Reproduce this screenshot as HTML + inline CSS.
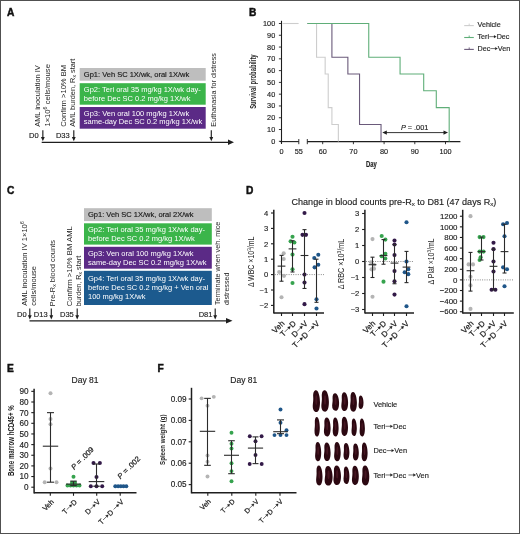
<!DOCTYPE html>
<html><head><meta charset="utf-8"><style>
html,body{margin:0;padding:0;background:#fff;}
body{width:520px;height:534px;overflow:hidden;}
#w{width:520px;height:534px;will-change:transform;background:#fff;}
svg{display:block;font-family:"Liberation Sans", sans-serif;}
</style></head><body><div id="w">
<svg width="520" height="534" viewBox="0 0 520 534" xml:space="preserve" style="white-space:pre">
<rect x="0" y="0" width="520" height="534" fill="#fff"/>
<text x="7" y="16.2" font-size="10.2" font-weight="bold" fill="#111" stroke="#111" stroke-width="0.45">A</text>
<g transform="translate(40.40,126.80) rotate(-90) translate(0.00,0)" fill="#1e1e1e"><text x="0.00" y="0" font-size="7.4207787074247324">AML inoculation IV</text></g>
<g transform="translate(49.60,126.60) rotate(-90) translate(0.00,0)" fill="#1e1e1e"><text x="0.00" y="0" font-size="7.644931988651673">1×10</text><text x="17.22" y="-2.75" font-size="5.20">6</text><text x="20.11" y="0" font-size="7.644931988651673"> cells/mouse</text></g>
<g transform="translate(65.60,126.80) rotate(-90) translate(0.00,0)" fill="#1e1e1e"><text x="0.00" y="0" font-size="7.615026627644773">Confirm &gt;10% BM</text></g>
<g transform="translate(75.00,126.80) rotate(-90) translate(0.00,0)" fill="#1e1e1e"><text x="0.00" y="0" font-size="7.371914505518633">AML burden, R</text><text x="49.31" y="1.47" font-size="5.01">x</text><text x="51.81" y="0" font-size="7.371914505518633"> start</text></g>
<g transform="translate(216.00,126.70) rotate(-90) translate(0.00,0)" fill="#1e1e1e"><text x="0.00" y="0" font-size="7.2453015675522074">Euthanasia for distress</text></g>
<rect x="79.7" y="68.0" width="126.00" height="12.7" fill="#bebebe"/>
<rect x="79.7" y="83.2" width="126.00" height="21.5" fill="#3bb54a"/>
<rect x="79.7" y="107.0" width="126.00" height="21.7" fill="#5b2a86"/>
<g transform="translate(83.80,76.60) translate(0.00,0)" fill="#1a1a1a" stroke="#1a1a1a" stroke-width="0.15"><text x="0.00" y="0" font-size="7.5">Gp1: Veh SC 1X/wk, oral 1X/wk</text></g>
<g transform="translate(83.80,91.90) translate(0.00,0)" fill="#fff"><text x="0.00" y="0" font-size="7.5">Gp2: Teri oral 35 mg/kg 1X/wk day-</text></g>
<g transform="translate(83.80,100.70) translate(0.00,0)" fill="#fff"><text x="0.00" y="0" font-size="7.5">before Dec SC 0.2 mg/kg 1X/wk</text></g>
<g transform="translate(83.80,115.60) translate(0.00,0)" fill="#fff"><text x="0.00" y="0" font-size="7.5">Gp3: Ven oral 100 mg/kg 1X/wk</text></g>
<g transform="translate(83.80,124.40) translate(0.00,0)" fill="#fff"><text x="0.00" y="0" font-size="7.5">same-day Dec SC 0.2 mg/kg 1X/wk</text></g>
<line x1="41.70" y1="142.30" x2="230.00" y2="142.30" stroke="#1e1e1e" stroke-width="1.3"/>
<path d="M228,139.6 L234,142.3 L228,145 Z" fill="#1e1e1e"/>
<g transform="translate(29.00,138.40) translate(0.00,0)" fill="#1e1e1e" stroke="#1e1e1e" stroke-width="0.15"><text x="0.00" y="0" font-size="7.5">D0</text></g>
<g transform="translate(55.90,138.40) translate(0.00,0)" fill="#1e1e1e" stroke="#1e1e1e" stroke-width="0.15"><text x="0.00" y="0" font-size="7.5">D33</text></g>
<line x1="42.85" y1="130.30" x2="42.85" y2="137.70" stroke="#1e1e1e" stroke-width="1.15"/>
<path d="M40.95,136.90 L44.75,136.90 L42.85,141.20 Z" fill="#1e1e1e"/>
<line x1="73.80" y1="130.30" x2="73.80" y2="137.70" stroke="#1e1e1e" stroke-width="1.15"/>
<path d="M71.90,136.90 L75.70,136.90 L73.80,141.20 Z" fill="#1e1e1e"/>
<line x1="211.30" y1="130.30" x2="211.30" y2="137.70" stroke="#1e1e1e" stroke-width="1.15"/>
<path d="M209.40,136.90 L213.20,136.90 L211.30,141.20 Z" fill="#1e1e1e"/>
<text x="249" y="15.8" font-size="10.2" font-weight="bold" fill="#111" stroke="#111" stroke-width="0.45">B</text>
<line x1="281.50" y1="20.80" x2="281.50" y2="144.00" stroke="#1e1e1e" stroke-width="1.1"/>
<line x1="278.90" y1="141.30" x2="281.50" y2="141.30" stroke="#1e1e1e" stroke-width="0.9"/>
<g transform="translate(275.20,143.80) translate(-4.06,0)" fill="#1e1e1e" stroke="#1e1e1e" stroke-width="0.15"><text x="0.00" y="0" font-size="7.3">0</text></g>
<line x1="278.90" y1="129.52" x2="281.50" y2="129.52" stroke="#1e1e1e" stroke-width="0.9"/>
<g transform="translate(275.20,132.02) translate(-8.12,0)" fill="#1e1e1e" stroke="#1e1e1e" stroke-width="0.15"><text x="0.00" y="0" font-size="7.3">10</text></g>
<line x1="278.90" y1="117.74" x2="281.50" y2="117.74" stroke="#1e1e1e" stroke-width="0.9"/>
<g transform="translate(275.20,120.24) translate(-8.12,0)" fill="#1e1e1e" stroke="#1e1e1e" stroke-width="0.15"><text x="0.00" y="0" font-size="7.3">20</text></g>
<line x1="278.90" y1="105.96" x2="281.50" y2="105.96" stroke="#1e1e1e" stroke-width="0.9"/>
<g transform="translate(275.20,108.46) translate(-8.12,0)" fill="#1e1e1e" stroke="#1e1e1e" stroke-width="0.15"><text x="0.00" y="0" font-size="7.3">30</text></g>
<line x1="278.90" y1="94.18" x2="281.50" y2="94.18" stroke="#1e1e1e" stroke-width="0.9"/>
<g transform="translate(275.20,96.68) translate(-8.12,0)" fill="#1e1e1e" stroke="#1e1e1e" stroke-width="0.15"><text x="0.00" y="0" font-size="7.3">40</text></g>
<line x1="278.90" y1="82.40" x2="281.50" y2="82.40" stroke="#1e1e1e" stroke-width="0.9"/>
<g transform="translate(275.20,84.90) translate(-8.12,0)" fill="#1e1e1e" stroke="#1e1e1e" stroke-width="0.15"><text x="0.00" y="0" font-size="7.3">50</text></g>
<line x1="278.90" y1="70.62" x2="281.50" y2="70.62" stroke="#1e1e1e" stroke-width="0.9"/>
<g transform="translate(275.20,73.12) translate(-8.12,0)" fill="#1e1e1e" stroke="#1e1e1e" stroke-width="0.15"><text x="0.00" y="0" font-size="7.3">60</text></g>
<line x1="278.90" y1="58.84" x2="281.50" y2="58.84" stroke="#1e1e1e" stroke-width="0.9"/>
<g transform="translate(275.20,61.34) translate(-8.12,0)" fill="#1e1e1e" stroke="#1e1e1e" stroke-width="0.15"><text x="0.00" y="0" font-size="7.3">70</text></g>
<line x1="278.90" y1="47.06" x2="281.50" y2="47.06" stroke="#1e1e1e" stroke-width="0.9"/>
<g transform="translate(275.20,49.56) translate(-8.12,0)" fill="#1e1e1e" stroke="#1e1e1e" stroke-width="0.15"><text x="0.00" y="0" font-size="7.3">80</text></g>
<line x1="278.90" y1="35.28" x2="281.50" y2="35.28" stroke="#1e1e1e" stroke-width="0.9"/>
<g transform="translate(275.20,37.78) translate(-8.12,0)" fill="#1e1e1e" stroke="#1e1e1e" stroke-width="0.15"><text x="0.00" y="0" font-size="7.3">90</text></g>
<line x1="278.90" y1="23.50" x2="281.50" y2="23.50" stroke="#1e1e1e" stroke-width="0.9"/>
<g transform="translate(275.20,26.00) translate(-12.18,0)" fill="#1e1e1e" stroke="#1e1e1e" stroke-width="0.15"><text x="0.00" y="0" font-size="7.3">100</text></g>
<line x1="279.90" y1="141.60" x2="298.80" y2="141.60" stroke="#1e1e1e" stroke-width="1.1"/>
<line x1="307.30" y1="141.60" x2="460.40" y2="141.60" stroke="#1e1e1e" stroke-width="1.1"/>
<line x1="298.80" y1="139.00" x2="298.80" y2="144.20" stroke="#1e1e1e" stroke-width="0.9"/>
<line x1="307.30" y1="139.00" x2="307.30" y2="144.20" stroke="#1e1e1e" stroke-width="0.9"/>
<g transform="translate(281.50,153.90) translate(-2.03,0)" fill="#1e1e1e" stroke="#1e1e1e" stroke-width="0.15"><text x="0.00" y="0" font-size="7.3">0</text></g>
<g transform="translate(298.80,153.90) translate(-4.06,0)" fill="#1e1e1e" stroke="#1e1e1e" stroke-width="0.15"><text x="0.00" y="0" font-size="7.3">55</text></g>
<line x1="322.70" y1="141.60" x2="322.70" y2="144.20" stroke="#1e1e1e" stroke-width="0.9"/>
<g transform="translate(322.70,153.90) translate(-4.06,0)" fill="#1e1e1e" stroke="#1e1e1e" stroke-width="0.15"><text x="0.00" y="0" font-size="7.3">60</text></g>
<line x1="353.40" y1="141.60" x2="353.40" y2="144.20" stroke="#1e1e1e" stroke-width="0.9"/>
<g transform="translate(353.40,153.90) translate(-4.06,0)" fill="#1e1e1e" stroke="#1e1e1e" stroke-width="0.15"><text x="0.00" y="0" font-size="7.3">70</text></g>
<line x1="384.10" y1="141.60" x2="384.10" y2="144.20" stroke="#1e1e1e" stroke-width="0.9"/>
<g transform="translate(384.10,153.90) translate(-4.06,0)" fill="#1e1e1e" stroke="#1e1e1e" stroke-width="0.15"><text x="0.00" y="0" font-size="7.3">80</text></g>
<line x1="414.80" y1="141.60" x2="414.80" y2="144.20" stroke="#1e1e1e" stroke-width="0.9"/>
<g transform="translate(414.80,153.90) translate(-4.06,0)" fill="#1e1e1e" stroke="#1e1e1e" stroke-width="0.15"><text x="0.00" y="0" font-size="7.3">90</text></g>
<line x1="445.50" y1="141.60" x2="445.50" y2="144.20" stroke="#1e1e1e" stroke-width="0.9"/>
<g transform="translate(445.50,153.90) translate(-6.09,0)" fill="#1e1e1e" stroke="#1e1e1e" stroke-width="0.15"><text x="0.00" y="0" font-size="7.3">100</text></g>
<g transform="translate(371.50,167.40) scale(0.7179344427802511,1) translate(-7.52,0)" fill="#1e1e1e" stroke="#1e1e1e" stroke-width="0.15"><text x="0.00" y="0" font-size="8.2" font-weight="bold">Day</text></g>
<g transform="translate(256.40,81.60) rotate(-90) scale(0.7161704428163157,1) translate(-38.05,0)" fill="#1e1e1e"><text x="0.00" y="0" font-size="8.2" font-weight="bold">Survival probability</text></g>
<path d="M282.5,23.5 H298.6" fill="none" stroke="#cdcdcd" stroke-width="1.1"/>
<path d="M307.5,23.5 H316.56 V57.19079999999999 H325.156 V74.0362 H328.226 V107.6092 H331.90999999999997 V124.4546 H338.35699999999997 V141.6" fill="none" stroke="#cdcdcd" stroke-width="1.1"/>
<path d="M307.5,23.5 H331.90999999999997 V57.19079999999999 H347.874 V74.0362 H359.53999999999996 V124.4546 H381.03 V141.6" fill="none" stroke="#6a5a7a" stroke-width="1.1"/>
<path d="M307.5,23.5 H368.75 V57.19079999999999 H400.06399999999996 V74.0362 H423.703 V90.7638 H436.28999999999996 V107.6092 H449.18399999999997 V141.6" fill="none" stroke="#5fae78" stroke-width="1.1"/>
<line x1="385.00" y1="132.60" x2="445.00" y2="132.60" stroke="#1e1e1e" stroke-width="0.9"/>
<path d="M382.3,132.6 L386.8,130.5 L386.8,134.7 Z" fill="#1e1e1e"/>
<path d="M448,132.6 L443.5,130.5 L443.5,134.7 Z" fill="#1e1e1e"/>
<g transform="translate(414.60,129.60) translate(-13.70,0)" fill="#1e1e1e" stroke="#1e1e1e" stroke-width="0.15"><text x="0.00" y="0" font-size="7.3" font-style="italic">P</text><text x="4.87" y="0" font-size="7.3"> = .001</text></g>
<line x1="464.20" y1="25.60" x2="473.80" y2="25.60" stroke="#cdcdcd" stroke-width="1.1"/>
<line x1="469.20" y1="23.60" x2="469.20" y2="25.60" stroke="#cdcdcd" stroke-width="0.9"/>
<g transform="translate(477.50,27.20) translate(0.00,0)" fill="#1e1e1e" stroke="#1e1e1e" stroke-width="0.15"><text x="0.00" y="0" font-size="7.2">Vehicle</text></g>
<line x1="464.20" y1="37.50" x2="473.80" y2="37.50" stroke="#5fae78" stroke-width="1.1"/>
<line x1="469.20" y1="35.50" x2="469.20" y2="37.50" stroke="#5fae78" stroke-width="0.9"/>
<g transform="translate(477.50,39.10) translate(0.00,0)" fill="#1e1e1e" stroke="#1e1e1e" stroke-width="0.15"><text x="0.00" y="0" font-size="7.2">Teri</text><path d="M11.75,-2.45 H16.57" stroke="#1e1e1e" stroke-width="0.61"/><path d="M16.47,-3.82 L18.95,-2.45 L16.47,-1.08 Z" fill="#1e1e1e"/><text x="19.16" y="0" font-size="7.2">Dec</text></g>
<line x1="464.20" y1="49.40" x2="473.80" y2="49.40" stroke="#6a5a7a" stroke-width="1.1"/>
<line x1="469.20" y1="47.40" x2="469.20" y2="49.40" stroke="#6a5a7a" stroke-width="0.9"/>
<g transform="translate(477.50,51.00) translate(0.00,0)" fill="#1e1e1e" stroke="#1e1e1e" stroke-width="0.15"><text x="0.00" y="0" font-size="7.2">Dec</text><path d="M12.95,-2.45 H17.77" stroke="#1e1e1e" stroke-width="0.61"/><path d="M17.67,-3.82 L20.15,-2.45 L17.67,-1.08 Z" fill="#1e1e1e"/><text x="20.36" y="0" font-size="7.2">Ven</text></g>
<text x="7" y="194" font-size="10.2" font-weight="bold" fill="#111" stroke="#111" stroke-width="0.45">C</text>
<g transform="translate(27.00,305.80) rotate(-90) translate(0.00,0)" fill="#1e1e1e"><text x="0.00" y="0" font-size="7.547152979274322">AML inoculation IV 1×10</text><text x="81.75" y="-2.72" font-size="5.13">6</text></g>
<g transform="translate(36.00,305.80) rotate(-90) translate(0.00,0)" fill="#1e1e1e"><text x="0.00" y="0" font-size="7.500110974653389">cells/mouse</text></g>
<g transform="translate(54.50,306.30) rotate(-90) translate(0.00,0)" fill="#1e1e1e"><text x="0.00" y="0" font-size="7.449176644078508">Pre-R</text><text x="19.45" y="1.49" font-size="5.07">x</text><text x="21.99" y="0" font-size="7.449176644078508"> blood counts</text></g>
<g transform="translate(71.60,306.30) rotate(-90) translate(0.00,0)" fill="#1e1e1e"><text x="0.00" y="0" font-size="7.696217715635191">Confirm &gt;10% BM AML</text></g>
<g transform="translate(81.00,306.30) rotate(-90) translate(0.00,0)" fill="#1e1e1e"><text x="0.00" y="0" font-size="7.261615889278334">burden, R</text><text x="31.89" y="1.45" font-size="4.94">x</text><text x="34.36" y="0" font-size="7.261615889278334"> start</text></g>
<g transform="translate(220.40,305.00) rotate(-90) translate(0.00,0)" fill="#1e1e1e"><text x="0.00" y="0" font-size="7.188061146942316">Terminate when veh. mice</text></g>
<g transform="translate(229.40,305.00) rotate(-90) translate(0.00,0)" fill="#1e1e1e"><text x="0.00" y="0" font-size="7.108795145614426">distressed</text></g>
<rect x="84.0" y="208.2" width="127.80" height="12.9" fill="#bebebe"/>
<rect x="84.0" y="223.3" width="127.80" height="21.3" fill="#3bb54a"/>
<rect x="84.0" y="246.8" width="127.80" height="21.9" fill="#5b2a86"/>
<rect x="84.0" y="270.8" width="127.80" height="34.2" fill="#1c5a8e"/>
<g transform="translate(88.00,217.20) translate(0.00,0)" fill="#1a1a1a" stroke="#1a1a1a" stroke-width="0.15"><text x="0.00" y="0" font-size="7.5">Gp1: Veh SC 1X/wk, oral 2X/wk</text></g>
<g transform="translate(88.00,232.10) translate(0.00,0)" fill="#fff"><text x="0.00" y="0" font-size="7.5">Gp2: Teri oral 35 mg/kg 1X/wk day-</text></g>
<g transform="translate(88.00,241.00) translate(0.00,0)" fill="#fff"><text x="0.00" y="0" font-size="7.5">before Dec SC 0.2 mg/kg 1X/wk</text></g>
<g transform="translate(88.00,255.60) translate(0.00,0)" fill="#fff"><text x="0.00" y="0" font-size="7.5">Gp3: Ven oral 100 mg/kg 1X/wk</text></g>
<g transform="translate(88.00,264.60) translate(0.00,0)" fill="#fff"><text x="0.00" y="0" font-size="7.5">same-day Dec SC 0.2 mg/kg 1X/wk</text></g>
<g transform="translate(88.00,280.80) translate(0.00,0)" fill="#fff"><text x="0.00" y="0" font-size="7.5">Gp4: Teri oral 35 mg/kg 1X/wk day-</text></g>
<g transform="translate(88.00,289.90) translate(0.00,0)" fill="#fff"><text x="0.00" y="0" font-size="7.5">before Dec SC 0.2 mg/kg + Ven oral</text></g>
<g transform="translate(88.00,299.00) translate(0.00,0)" fill="#fff"><text x="0.00" y="0" font-size="7.5">100 mg/kg 1X/wk</text></g>
<line x1="29.50" y1="320.80" x2="228.00" y2="320.80" stroke="#1e1e1e" stroke-width="1.3"/>
<path d="M226,318.1 L232.5,320.8 L226,323.5 Z" fill="#1e1e1e"/>
<g transform="translate(17.00,317.20) translate(0.00,0)" fill="#1e1e1e" stroke="#1e1e1e" stroke-width="0.15"><text x="0.00" y="0" font-size="7.5">D0</text></g>
<g transform="translate(33.80,317.20) translate(0.00,0)" fill="#1e1e1e" stroke="#1e1e1e" stroke-width="0.15"><text x="0.00" y="0" font-size="7.5">D13</text></g>
<g transform="translate(60.00,317.20) translate(0.00,0)" fill="#1e1e1e" stroke="#1e1e1e" stroke-width="0.15"><text x="0.00" y="0" font-size="7.5">D35</text></g>
<g transform="translate(198.70,317.20) translate(0.00,0)" fill="#1e1e1e" stroke="#1e1e1e" stroke-width="0.15"><text x="0.00" y="0" font-size="7.5">D81</text></g>
<line x1="29.80" y1="308.50" x2="29.80" y2="316.10" stroke="#1e1e1e" stroke-width="1.15"/>
<path d="M27.90,315.30 L31.70,315.30 L29.80,319.60 Z" fill="#1e1e1e"/>
<line x1="51.30" y1="308.50" x2="51.30" y2="316.10" stroke="#1e1e1e" stroke-width="1.15"/>
<path d="M49.40,315.30 L53.20,315.30 L51.30,319.60 Z" fill="#1e1e1e"/>
<line x1="77.20" y1="308.50" x2="77.20" y2="316.10" stroke="#1e1e1e" stroke-width="1.15"/>
<path d="M75.30,315.30 L79.10,315.30 L77.20,319.60 Z" fill="#1e1e1e"/>
<line x1="215.20" y1="308.50" x2="215.20" y2="316.10" stroke="#1e1e1e" stroke-width="1.15"/>
<path d="M213.30,315.30 L217.10,315.30 L215.20,319.60 Z" fill="#1e1e1e"/>
<text x="245.9" y="193.6" font-size="10.2" font-weight="bold" fill="#111" stroke="#111" stroke-width="0.45">D</text>
<g transform="translate(291.50,204.50) translate(0.00,0)" fill="#1e1e1e" stroke="#1e1e1e" stroke-width="0.15"><text x="0.00" y="0" font-size="9.05">Change in blood counts pre-R</text><text x="120.24" y="1.81" font-size="6.15">x</text><text x="123.32" y="0" font-size="9.05"> to D81 (47 days R</text><text x="198.77" y="1.81" font-size="6.15">x</text><text x="201.85" y="0" font-size="9.05">)</text></g>
<line x1="273.80" y1="209.80" x2="273.80" y2="313.60" stroke="#1e1e1e" stroke-width="1.5"/>
<line x1="273.80" y1="312.90" x2="324.00" y2="312.90" stroke="#1e1e1e" stroke-width="1.5"/>
<line x1="271.00" y1="213.00" x2="273.80" y2="213.00" stroke="#1e1e1e" stroke-width="1.1"/>
<g transform="translate(268.20,215.70) translate(-4.23,0)" fill="#1e1e1e" stroke="#1e1e1e" stroke-width="0.15"><text x="0.00" y="0" font-size="7.6">4</text></g>
<line x1="271.00" y1="228.40" x2="273.80" y2="228.40" stroke="#1e1e1e" stroke-width="1.1"/>
<g transform="translate(268.20,231.10) translate(-4.23,0)" fill="#1e1e1e" stroke="#1e1e1e" stroke-width="0.15"><text x="0.00" y="0" font-size="7.6">3</text></g>
<line x1="271.00" y1="243.80" x2="273.80" y2="243.80" stroke="#1e1e1e" stroke-width="1.1"/>
<g transform="translate(268.20,246.50) translate(-4.23,0)" fill="#1e1e1e" stroke="#1e1e1e" stroke-width="0.15"><text x="0.00" y="0" font-size="7.6">2</text></g>
<line x1="271.00" y1="259.20" x2="273.80" y2="259.20" stroke="#1e1e1e" stroke-width="1.1"/>
<g transform="translate(268.20,261.90) translate(-4.23,0)" fill="#1e1e1e" stroke="#1e1e1e" stroke-width="0.15"><text x="0.00" y="0" font-size="7.6">1</text></g>
<line x1="271.00" y1="274.60" x2="273.80" y2="274.60" stroke="#1e1e1e" stroke-width="1.1"/>
<g transform="translate(268.20,277.30) translate(-4.23,0)" fill="#1e1e1e" stroke="#1e1e1e" stroke-width="0.15"><text x="0.00" y="0" font-size="7.6">0</text></g>
<line x1="271.00" y1="290.00" x2="273.80" y2="290.00" stroke="#1e1e1e" stroke-width="1.1"/>
<g transform="translate(268.20,292.70) translate(-8.67,0)" fill="#1e1e1e" stroke="#1e1e1e" stroke-width="0.15"><text x="0.00" y="0" font-size="7.6">−1</text></g>
<line x1="271.00" y1="305.40" x2="273.80" y2="305.40" stroke="#1e1e1e" stroke-width="1.1"/>
<g transform="translate(268.20,308.10) translate(-8.67,0)" fill="#1e1e1e" stroke="#1e1e1e" stroke-width="0.15"><text x="0.00" y="0" font-size="7.6">−2</text></g>
<line x1="274.80" y1="274.60" x2="324.00" y2="274.60" stroke="#6a6a6a" stroke-width="0.8" stroke-dasharray="1,1.3"/>
<line x1="281.50" y1="312.90" x2="281.50" y2="316.00" stroke="#1e1e1e" stroke-width="1.1"/>
<line x1="292.50" y1="312.90" x2="292.50" y2="316.00" stroke="#1e1e1e" stroke-width="1.1"/>
<line x1="304.50" y1="312.90" x2="304.50" y2="316.00" stroke="#1e1e1e" stroke-width="1.1"/>
<line x1="316.50" y1="312.90" x2="316.50" y2="316.00" stroke="#1e1e1e" stroke-width="1.1"/>
<circle cx="283.70" cy="253.35" r="2.05" fill="#b4b4b4"/>
<circle cx="283.70" cy="259.05" r="2.05" fill="#b4b4b4"/>
<circle cx="279.20" cy="271.98" r="2.05" fill="#b4b4b4"/>
<circle cx="284.00" cy="275.83" r="2.05" fill="#b4b4b4"/>
<circle cx="281.50" cy="297.24" r="2.05" fill="#b4b4b4"/>
<line x1="281.50" y1="255.35" x2="281.50" y2="281.22" stroke="#2b2b2b" stroke-width="1.1"/>
<line x1="279.50" y1="255.35" x2="283.50" y2="255.35" stroke="#2b2b2b" stroke-width="1.1"/>
<line x1="279.50" y1="281.22" x2="283.50" y2="281.22" stroke="#2b2b2b" stroke-width="1.1"/>
<line x1="277.60" y1="266.13" x2="285.40" y2="266.13" stroke="#2b2b2b" stroke-width="1.1"/>
<circle cx="292.50" cy="236.72" r="2.05" fill="#36a34e"/>
<circle cx="290.60" cy="241.34" r="2.05" fill="#36a34e"/>
<circle cx="294.40" cy="242.57" r="2.05" fill="#36a34e"/>
<circle cx="292.50" cy="254.58" r="2.05" fill="#36a34e"/>
<circle cx="292.50" cy="269.21" r="2.05" fill="#36a34e"/>
<circle cx="292.50" cy="283.07" r="2.05" fill="#36a34e"/>
<line x1="292.50" y1="240.72" x2="292.50" y2="271.98" stroke="#2b2b2b" stroke-width="1.1"/>
<line x1="290.50" y1="240.72" x2="294.50" y2="240.72" stroke="#2b2b2b" stroke-width="1.1"/>
<line x1="290.50" y1="271.98" x2="294.50" y2="271.98" stroke="#2b2b2b" stroke-width="1.1"/>
<line x1="288.60" y1="248.88" x2="296.40" y2="248.88" stroke="#2b2b2b" stroke-width="1.1"/>
<circle cx="304.50" cy="213.00" r="2.05" fill="#331a48"/>
<circle cx="302.50" cy="234.87" r="2.05" fill="#331a48"/>
<circle cx="306.00" cy="234.87" r="2.05" fill="#331a48"/>
<circle cx="304.50" cy="274.60" r="2.05" fill="#331a48"/>
<circle cx="304.50" cy="282.61" r="2.05" fill="#331a48"/>
<circle cx="304.50" cy="304.17" r="2.05" fill="#331a48"/>
<line x1="304.50" y1="229.63" x2="304.50" y2="288.46" stroke="#2b2b2b" stroke-width="1.1"/>
<line x1="302.50" y1="229.63" x2="306.50" y2="229.63" stroke="#2b2b2b" stroke-width="1.1"/>
<line x1="302.50" y1="288.46" x2="306.50" y2="288.46" stroke="#2b2b2b" stroke-width="1.1"/>
<line x1="300.60" y1="255.50" x2="308.40" y2="255.50" stroke="#2b2b2b" stroke-width="1.1"/>
<circle cx="318.30" cy="254.73" r="2.05" fill="#1f5689"/>
<circle cx="314.30" cy="257.97" r="2.05" fill="#1f5689"/>
<circle cx="318.30" cy="264.74" r="2.05" fill="#1f5689"/>
<circle cx="314.60" cy="267.36" r="2.05" fill="#1f5689"/>
<circle cx="316.50" cy="299.24" r="2.05" fill="#1f5689"/>
<circle cx="316.50" cy="308.48" r="2.05" fill="#1f5689"/>
<line x1="316.50" y1="259.20" x2="316.50" y2="302.32" stroke="#2b2b2b" stroke-width="1.1"/>
<line x1="314.50" y1="259.20" x2="318.50" y2="259.20" stroke="#2b2b2b" stroke-width="1.1"/>
<line x1="314.50" y1="302.32" x2="318.50" y2="302.32" stroke="#2b2b2b" stroke-width="1.1"/>
<g transform="translate(285.00,324.00) rotate(-45) translate(-13.62,0)" fill="#1e1e1e" stroke="#1e1e1e" stroke-width="0.22"><text x="0.00" y="0" font-size="7.9">Veh</text></g>
<g transform="translate(296.50,324.00) rotate(-45) translate(-18.83,0)" fill="#1e1e1e" stroke="#1e1e1e" stroke-width="0.22"><text x="0.00" y="0" font-size="7.9">T</text><path d="M4.98,-2.69 H10.28" stroke="#1e1e1e" stroke-width="0.67"/><path d="M10.18,-4.19 L12.88,-2.69 L10.18,-1.19 Z" fill="#1e1e1e"/><text x="13.12" y="0" font-size="7.9">D</text></g>
<g transform="translate(308.30,324.00) rotate(-45) translate(-19.27,0)" fill="#1e1e1e" stroke="#1e1e1e" stroke-width="0.22"><text x="0.00" y="0" font-size="7.9">D</text><path d="M5.86,-2.69 H11.16" stroke="#1e1e1e" stroke-width="0.67"/><path d="M11.06,-4.19 L13.76,-2.69 L11.06,-1.19 Z" fill="#1e1e1e"/><text x="14.00" y="0" font-size="7.9">V</text></g>
<g transform="translate(319.90,324.00) rotate(-45) translate(-34.59,0)" fill="#1e1e1e" stroke="#1e1e1e" stroke-width="0.22"><text x="0.00" y="0" font-size="7.9">T</text><path d="M4.98,-2.69 H10.28" stroke="#1e1e1e" stroke-width="0.67"/><path d="M10.18,-4.19 L12.88,-2.69 L10.18,-1.19 Z" fill="#1e1e1e"/><text x="13.12" y="0" font-size="7.9">D </text><path d="M21.18,-2.69 H26.47" stroke="#1e1e1e" stroke-width="0.67"/><path d="M26.37,-4.19 L29.08,-2.69 L26.37,-1.19 Z" fill="#1e1e1e"/><text x="29.32" y="0" font-size="7.9">V</text></g>
<g transform="translate(253.70,261.80) rotate(-90) scale(0.8188017250645007,1) translate(-30.90,0)" fill="#1e1e1e"><text x="0.00" y="0" font-size="8.532000000000002">Δ WBC ×10</text><text x="44.35" y="-3.07" font-size="5.80">3</text><text x="47.57" y="0" font-size="8.532000000000002">/mL</text></g>
<line x1="364.90" y1="209.80" x2="364.90" y2="313.60" stroke="#1e1e1e" stroke-width="1.5"/>
<line x1="364.90" y1="312.90" x2="414.00" y2="312.90" stroke="#1e1e1e" stroke-width="1.5"/>
<line x1="362.10" y1="213.50" x2="364.90" y2="213.50" stroke="#1e1e1e" stroke-width="1.1"/>
<g transform="translate(359.30,216.20) translate(-4.23,0)" fill="#1e1e1e" stroke="#1e1e1e" stroke-width="0.15"><text x="0.00" y="0" font-size="7.6">3</text></g>
<line x1="362.10" y1="229.50" x2="364.90" y2="229.50" stroke="#1e1e1e" stroke-width="1.1"/>
<g transform="translate(359.30,232.20) translate(-4.23,0)" fill="#1e1e1e" stroke="#1e1e1e" stroke-width="0.15"><text x="0.00" y="0" font-size="7.6">2</text></g>
<line x1="362.10" y1="245.50" x2="364.90" y2="245.50" stroke="#1e1e1e" stroke-width="1.1"/>
<g transform="translate(359.30,248.20) translate(-4.23,0)" fill="#1e1e1e" stroke="#1e1e1e" stroke-width="0.15"><text x="0.00" y="0" font-size="7.6">1</text></g>
<line x1="362.10" y1="261.50" x2="364.90" y2="261.50" stroke="#1e1e1e" stroke-width="1.1"/>
<g transform="translate(359.30,264.20) translate(-4.23,0)" fill="#1e1e1e" stroke="#1e1e1e" stroke-width="0.15"><text x="0.00" y="0" font-size="7.6">0</text></g>
<line x1="362.10" y1="277.50" x2="364.90" y2="277.50" stroke="#1e1e1e" stroke-width="1.1"/>
<g transform="translate(359.30,280.20) translate(-8.67,0)" fill="#1e1e1e" stroke="#1e1e1e" stroke-width="0.15"><text x="0.00" y="0" font-size="7.6">−1</text></g>
<line x1="362.10" y1="293.50" x2="364.90" y2="293.50" stroke="#1e1e1e" stroke-width="1.1"/>
<g transform="translate(359.30,296.20) translate(-8.67,0)" fill="#1e1e1e" stroke="#1e1e1e" stroke-width="0.15"><text x="0.00" y="0" font-size="7.6">−2</text></g>
<line x1="362.10" y1="309.50" x2="364.90" y2="309.50" stroke="#1e1e1e" stroke-width="1.1"/>
<g transform="translate(359.30,312.20) translate(-8.67,0)" fill="#1e1e1e" stroke="#1e1e1e" stroke-width="0.15"><text x="0.00" y="0" font-size="7.6">−3</text></g>
<line x1="365.90" y1="261.50" x2="414.00" y2="261.50" stroke="#6a6a6a" stroke-width="0.8" stroke-dasharray="1,1.3"/>
<line x1="372.50" y1="312.90" x2="372.50" y2="316.00" stroke="#1e1e1e" stroke-width="1.1"/>
<line x1="383.50" y1="312.90" x2="383.50" y2="316.00" stroke="#1e1e1e" stroke-width="1.1"/>
<line x1="394.50" y1="312.90" x2="394.50" y2="316.00" stroke="#1e1e1e" stroke-width="1.1"/>
<line x1="406.50" y1="312.90" x2="406.50" y2="316.00" stroke="#1e1e1e" stroke-width="1.1"/>
<circle cx="372.50" cy="239.10" r="2.05" fill="#b4b4b4"/>
<circle cx="371.00" cy="262.30" r="2.05" fill="#b4b4b4"/>
<circle cx="374.00" cy="264.70" r="2.05" fill="#b4b4b4"/>
<circle cx="371.50" cy="269.34" r="2.05" fill="#b4b4b4"/>
<circle cx="374.00" cy="268.70" r="2.05" fill="#b4b4b4"/>
<circle cx="372.50" cy="296.70" r="2.05" fill="#b4b4b4"/>
<line x1="372.50" y1="257.18" x2="372.50" y2="277.50" stroke="#2b2b2b" stroke-width="1.1"/>
<line x1="370.50" y1="257.18" x2="374.50" y2="257.18" stroke="#2b2b2b" stroke-width="1.1"/>
<line x1="370.50" y1="277.50" x2="374.50" y2="277.50" stroke="#2b2b2b" stroke-width="1.1"/>
<line x1="368.60" y1="264.70" x2="376.40" y2="264.70" stroke="#2b2b2b" stroke-width="1.1"/>
<circle cx="381.70" cy="236.06" r="2.05" fill="#36a34e"/>
<circle cx="385.40" cy="239.58" r="2.05" fill="#36a34e"/>
<circle cx="385.40" cy="253.82" r="2.05" fill="#36a34e"/>
<circle cx="381.70" cy="256.22" r="2.05" fill="#36a34e"/>
<circle cx="385.30" cy="258.46" r="2.05" fill="#36a34e"/>
<circle cx="383.50" cy="281.66" r="2.05" fill="#36a34e"/>
<line x1="383.50" y1="239.58" x2="383.50" y2="264.22" stroke="#2b2b2b" stroke-width="1.1"/>
<line x1="381.50" y1="239.58" x2="385.50" y2="239.58" stroke="#2b2b2b" stroke-width="1.1"/>
<line x1="381.50" y1="264.22" x2="385.50" y2="264.22" stroke="#2b2b2b" stroke-width="1.1"/>
<line x1="379.60" y1="255.58" x2="387.40" y2="255.58" stroke="#2b2b2b" stroke-width="1.1"/>
<circle cx="394.50" cy="240.54" r="2.05" fill="#331a48"/>
<circle cx="394.50" cy="244.54" r="2.05" fill="#331a48"/>
<circle cx="394.50" cy="255.10" r="2.05" fill="#331a48"/>
<circle cx="394.50" cy="271.10" r="2.05" fill="#331a48"/>
<circle cx="394.50" cy="281.34" r="2.05" fill="#331a48"/>
<circle cx="394.50" cy="294.62" r="2.05" fill="#331a48"/>
<line x1="394.50" y1="244.54" x2="394.50" y2="283.74" stroke="#2b2b2b" stroke-width="1.1"/>
<line x1="392.50" y1="244.54" x2="396.50" y2="244.54" stroke="#2b2b2b" stroke-width="1.1"/>
<line x1="392.50" y1="283.74" x2="396.50" y2="283.74" stroke="#2b2b2b" stroke-width="1.1"/>
<line x1="390.60" y1="263.10" x2="398.40" y2="263.10" stroke="#2b2b2b" stroke-width="1.1"/>
<circle cx="406.50" cy="222.30" r="2.05" fill="#1f5689"/>
<circle cx="406.50" cy="261.50" r="2.05" fill="#1f5689"/>
<circle cx="408.30" cy="269.18" r="2.05" fill="#1f5689"/>
<circle cx="404.70" cy="272.22" r="2.05" fill="#1f5689"/>
<circle cx="408.30" cy="274.14" r="2.05" fill="#1f5689"/>
<circle cx="406.50" cy="306.30" r="2.05" fill="#1f5689"/>
<line x1="406.50" y1="251.42" x2="406.50" y2="282.62" stroke="#2b2b2b" stroke-width="1.1"/>
<line x1="404.50" y1="251.42" x2="408.50" y2="251.42" stroke="#2b2b2b" stroke-width="1.1"/>
<line x1="404.50" y1="282.62" x2="408.50" y2="282.62" stroke="#2b2b2b" stroke-width="1.1"/>
<line x1="402.60" y1="267.10" x2="410.40" y2="267.10" stroke="#2b2b2b" stroke-width="1.1"/>
<g transform="translate(375.80,324.00) rotate(-45) translate(-13.62,0)" fill="#1e1e1e" stroke="#1e1e1e" stroke-width="0.22"><text x="0.00" y="0" font-size="7.9">Veh</text></g>
<g transform="translate(386.80,324.00) rotate(-45) translate(-18.83,0)" fill="#1e1e1e" stroke="#1e1e1e" stroke-width="0.22"><text x="0.00" y="0" font-size="7.9">T</text><path d="M4.98,-2.69 H10.28" stroke="#1e1e1e" stroke-width="0.67"/><path d="M10.18,-4.19 L12.88,-2.69 L10.18,-1.19 Z" fill="#1e1e1e"/><text x="13.12" y="0" font-size="7.9">D</text></g>
<g transform="translate(398.10,324.00) rotate(-45) translate(-19.27,0)" fill="#1e1e1e" stroke="#1e1e1e" stroke-width="0.22"><text x="0.00" y="0" font-size="7.9">D</text><path d="M5.86,-2.69 H11.16" stroke="#1e1e1e" stroke-width="0.67"/><path d="M11.06,-4.19 L13.76,-2.69 L11.06,-1.19 Z" fill="#1e1e1e"/><text x="14.00" y="0" font-size="7.9">V</text></g>
<g transform="translate(409.60,324.00) rotate(-45) translate(-34.59,0)" fill="#1e1e1e" stroke="#1e1e1e" stroke-width="0.22"><text x="0.00" y="0" font-size="7.9">T</text><path d="M4.98,-2.69 H10.28" stroke="#1e1e1e" stroke-width="0.67"/><path d="M10.18,-4.19 L12.88,-2.69 L10.18,-1.19 Z" fill="#1e1e1e"/><text x="13.12" y="0" font-size="7.9">D </text><path d="M21.18,-2.69 H26.47" stroke="#1e1e1e" stroke-width="0.67"/><path d="M26.37,-4.19 L29.08,-2.69 L26.37,-1.19 Z" fill="#1e1e1e"/><text x="29.32" y="0" font-size="7.9">V</text></g>
<g transform="translate(343.90,264.00) rotate(-90) scale(0.8446483832942516,1) translate(-29.95,0)" fill="#1e1e1e"><text x="0.00" y="0" font-size="8.532000000000002">Δ RBC ×10</text><text x="42.46" y="-3.07" font-size="5.80">3</text><text x="45.68" y="0" font-size="8.532000000000002">/mL</text></g>
<line x1="462.70" y1="209.80" x2="462.70" y2="313.60" stroke="#1e1e1e" stroke-width="1.5"/>
<line x1="462.70" y1="312.90" x2="513.80" y2="312.90" stroke="#1e1e1e" stroke-width="1.5"/>
<line x1="459.90" y1="216.24" x2="462.70" y2="216.24" stroke="#1e1e1e" stroke-width="1.1"/>
<g transform="translate(457.50,218.94) translate(-17.58,0)" fill="#1e1e1e" stroke="#1e1e1e" stroke-width="0.15"><text x="0.00" y="0" font-size="7.9">1200</text></g>
<line x1="459.90" y1="226.85" x2="462.70" y2="226.85" stroke="#1e1e1e" stroke-width="1.1"/>
<g transform="translate(457.50,229.55) translate(-17.58,0)" fill="#1e1e1e" stroke="#1e1e1e" stroke-width="0.15"><text x="0.00" y="0" font-size="7.9">1000</text></g>
<line x1="459.90" y1="237.46" x2="462.70" y2="237.46" stroke="#1e1e1e" stroke-width="1.1"/>
<g transform="translate(457.50,240.16) translate(-13.18,0)" fill="#1e1e1e" stroke="#1e1e1e" stroke-width="0.15"><text x="0.00" y="0" font-size="7.9">800</text></g>
<line x1="459.90" y1="248.07" x2="462.70" y2="248.07" stroke="#1e1e1e" stroke-width="1.1"/>
<g transform="translate(457.50,250.77) translate(-13.18,0)" fill="#1e1e1e" stroke="#1e1e1e" stroke-width="0.15"><text x="0.00" y="0" font-size="7.9">600</text></g>
<line x1="459.90" y1="258.68" x2="462.70" y2="258.68" stroke="#1e1e1e" stroke-width="1.1"/>
<g transform="translate(457.50,261.38) translate(-13.18,0)" fill="#1e1e1e" stroke="#1e1e1e" stroke-width="0.15"><text x="0.00" y="0" font-size="7.9">400</text></g>
<line x1="459.90" y1="269.29" x2="462.70" y2="269.29" stroke="#1e1e1e" stroke-width="1.1"/>
<g transform="translate(457.50,271.99) translate(-13.18,0)" fill="#1e1e1e" stroke="#1e1e1e" stroke-width="0.15"><text x="0.00" y="0" font-size="7.9">200</text></g>
<line x1="459.90" y1="279.90" x2="462.70" y2="279.90" stroke="#1e1e1e" stroke-width="1.1"/>
<g transform="translate(457.50,282.60) translate(-4.39,0)" fill="#1e1e1e" stroke="#1e1e1e" stroke-width="0.15"><text x="0.00" y="0" font-size="7.9">0</text></g>
<line x1="459.90" y1="290.51" x2="462.70" y2="290.51" stroke="#1e1e1e" stroke-width="1.1"/>
<g transform="translate(457.50,293.21) translate(-17.79,0)" fill="#1e1e1e" stroke="#1e1e1e" stroke-width="0.15"><text x="0.00" y="0" font-size="7.9">−200</text></g>
<line x1="459.90" y1="301.12" x2="462.70" y2="301.12" stroke="#1e1e1e" stroke-width="1.1"/>
<g transform="translate(457.50,303.82) translate(-17.79,0)" fill="#1e1e1e" stroke="#1e1e1e" stroke-width="0.15"><text x="0.00" y="0" font-size="7.9">−400</text></g>
<line x1="459.90" y1="311.73" x2="462.70" y2="311.73" stroke="#1e1e1e" stroke-width="1.1"/>
<g transform="translate(457.50,314.43) translate(-17.79,0)" fill="#1e1e1e" stroke="#1e1e1e" stroke-width="0.15"><text x="0.00" y="0" font-size="7.9">−600</text></g>
<line x1="463.70" y1="279.90" x2="513.80" y2="279.90" stroke="#6a6a6a" stroke-width="0.8" stroke-dasharray="1,1.3"/>
<line x1="470.50" y1="312.90" x2="470.50" y2="316.00" stroke="#1e1e1e" stroke-width="1.1"/>
<line x1="481.50" y1="312.90" x2="481.50" y2="316.00" stroke="#1e1e1e" stroke-width="1.1"/>
<line x1="493.50" y1="312.90" x2="493.50" y2="316.00" stroke="#1e1e1e" stroke-width="1.1"/>
<line x1="504.50" y1="312.90" x2="504.50" y2="316.00" stroke="#1e1e1e" stroke-width="1.1"/>
<circle cx="470.50" cy="216.13" r="2.05" fill="#b4b4b4"/>
<circle cx="468.60" cy="264.41" r="2.05" fill="#b4b4b4"/>
<circle cx="473.00" cy="264.41" r="2.05" fill="#b4b4b4"/>
<circle cx="470.50" cy="276.82" r="2.05" fill="#b4b4b4"/>
<circle cx="470.50" cy="285.42" r="2.05" fill="#b4b4b4"/>
<circle cx="470.50" cy="308.92" r="2.05" fill="#b4b4b4"/>
<line x1="470.50" y1="252.42" x2="470.50" y2="291.09" stroke="#2b2b2b" stroke-width="1.1"/>
<line x1="468.50" y1="252.42" x2="472.50" y2="252.42" stroke="#2b2b2b" stroke-width="1.1"/>
<line x1="468.50" y1="291.09" x2="472.50" y2="291.09" stroke="#2b2b2b" stroke-width="1.1"/>
<line x1="466.60" y1="270.72" x2="474.40" y2="270.72" stroke="#2b2b2b" stroke-width="1.1"/>
<circle cx="479.60" cy="237.09" r="2.05" fill="#36a34e"/>
<circle cx="483.50" cy="237.09" r="2.05" fill="#36a34e"/>
<circle cx="479.60" cy="251.62" r="2.05" fill="#36a34e"/>
<circle cx="483.50" cy="251.62" r="2.05" fill="#36a34e"/>
<circle cx="480.60" cy="257.30" r="2.05" fill="#36a34e"/>
<circle cx="479.60" cy="260.01" r="2.05" fill="#36a34e"/>
<line x1="481.50" y1="237.09" x2="481.50" y2="260.01" stroke="#2b2b2b" stroke-width="1.1"/>
<line x1="479.50" y1="237.09" x2="483.50" y2="237.09" stroke="#2b2b2b" stroke-width="1.1"/>
<line x1="479.50" y1="260.01" x2="483.50" y2="260.01" stroke="#2b2b2b" stroke-width="1.1"/>
<line x1="477.60" y1="251.62" x2="485.40" y2="251.62" stroke="#2b2b2b" stroke-width="1.1"/>
<circle cx="493.50" cy="242.82" r="2.05" fill="#331a48"/>
<circle cx="493.50" cy="249.13" r="2.05" fill="#331a48"/>
<circle cx="493.50" cy="261.49" r="2.05" fill="#331a48"/>
<circle cx="493.50" cy="271.52" r="2.05" fill="#331a48"/>
<circle cx="491.60" cy="289.82" r="2.05" fill="#331a48"/>
<circle cx="495.40" cy="289.82" r="2.05" fill="#331a48"/>
<line x1="493.50" y1="249.13" x2="493.50" y2="289.82" stroke="#2b2b2b" stroke-width="1.1"/>
<line x1="491.50" y1="249.13" x2="495.50" y2="249.13" stroke="#2b2b2b" stroke-width="1.1"/>
<line x1="491.50" y1="289.82" x2="495.50" y2="289.82" stroke="#2b2b2b" stroke-width="1.1"/>
<line x1="489.60" y1="266.32" x2="497.40" y2="266.32" stroke="#2b2b2b" stroke-width="1.1"/>
<circle cx="503.10" cy="224.30" r="2.05" fill="#1f5689"/>
<circle cx="507.00" cy="223.03" r="2.05" fill="#1f5689"/>
<circle cx="504.50" cy="236.29" r="2.05" fill="#1f5689"/>
<circle cx="503.10" cy="267.33" r="2.05" fill="#1f5689"/>
<circle cx="507.00" cy="269.24" r="2.05" fill="#1f5689"/>
<circle cx="504.50" cy="286.32" r="2.05" fill="#1f5689"/>
<line x1="504.50" y1="224.30" x2="504.50" y2="273.00" stroke="#2b2b2b" stroke-width="1.1"/>
<line x1="502.50" y1="224.30" x2="506.50" y2="224.30" stroke="#2b2b2b" stroke-width="1.1"/>
<line x1="502.50" y1="273.00" x2="506.50" y2="273.00" stroke="#2b2b2b" stroke-width="1.1"/>
<line x1="500.60" y1="251.62" x2="508.40" y2="251.62" stroke="#2b2b2b" stroke-width="1.1"/>
<g transform="translate(474.10,324.00) rotate(-45) translate(-13.62,0)" fill="#1e1e1e" stroke="#1e1e1e" stroke-width="0.22"><text x="0.00" y="0" font-size="7.9">Veh</text></g>
<g transform="translate(485.50,324.00) rotate(-45) translate(-18.83,0)" fill="#1e1e1e" stroke="#1e1e1e" stroke-width="0.22"><text x="0.00" y="0" font-size="7.9">T</text><path d="M4.98,-2.69 H10.28" stroke="#1e1e1e" stroke-width="0.67"/><path d="M10.18,-4.19 L12.88,-2.69 L10.18,-1.19 Z" fill="#1e1e1e"/><text x="13.12" y="0" font-size="7.9">D</text></g>
<g transform="translate(496.60,324.00) rotate(-45) translate(-19.27,0)" fill="#1e1e1e" stroke="#1e1e1e" stroke-width="0.22"><text x="0.00" y="0" font-size="7.9">D</text><path d="M5.86,-2.69 H11.16" stroke="#1e1e1e" stroke-width="0.67"/><path d="M11.06,-4.19 L13.76,-2.69 L11.06,-1.19 Z" fill="#1e1e1e"/><text x="14.00" y="0" font-size="7.9">V</text></g>
<g transform="translate(508.10,324.00) rotate(-45) translate(-34.59,0)" fill="#1e1e1e" stroke="#1e1e1e" stroke-width="0.22"><text x="0.00" y="0" font-size="7.9">T</text><path d="M4.98,-2.69 H10.28" stroke="#1e1e1e" stroke-width="0.67"/><path d="M10.18,-4.19 L12.88,-2.69 L10.18,-1.19 Z" fill="#1e1e1e"/><text x="13.12" y="0" font-size="7.9">D </text><path d="M21.18,-2.69 H26.47" stroke="#1e1e1e" stroke-width="0.67"/><path d="M26.37,-4.19 L29.08,-2.69 L26.37,-1.19 Z" fill="#1e1e1e"/><text x="29.32" y="0" font-size="7.9">V</text></g>
<g transform="translate(433.60,261.40) rotate(-90) scale(0.8128007532994973,1) translate(-28.30,0)" fill="#1e1e1e"><text x="0.00" y="0" font-size="8.532000000000002">Δ Plat ×10</text><text x="39.14" y="-3.07" font-size="5.80">3</text><text x="42.37" y="0" font-size="8.532000000000002">/mL</text></g>
<text x="7.0" y="372.3" font-size="10.2" font-weight="bold" fill="#111" stroke="#111" stroke-width="0.45">E</text>
<g transform="translate(85.00,382.70) translate(-13.47,0)" fill="#1e1e1e" stroke="#1e1e1e" stroke-width="0.15"><text x="0.00" y="0" font-size="8.5">Day 81</text></g>
<line x1="34.10" y1="388.70" x2="34.10" y2="493.40" stroke="#1e1e1e" stroke-width="1.5"/>
<line x1="34.10" y1="492.80" x2="136.50" y2="492.80" stroke="#1e1e1e" stroke-width="1.5"/>
<line x1="31.30" y1="487.20" x2="34.10" y2="487.20" stroke="#1e1e1e" stroke-width="1.1"/>
<g transform="translate(28.50,490.10) translate(-4.56,0)" fill="#1e1e1e" stroke="#1e1e1e" stroke-width="0.15"><text x="0.00" y="0" font-size="8.2">0</text></g>
<line x1="31.30" y1="476.55" x2="34.10" y2="476.55" stroke="#1e1e1e" stroke-width="1.1"/>
<g transform="translate(28.50,479.45) translate(-9.12,0)" fill="#1e1e1e" stroke="#1e1e1e" stroke-width="0.15"><text x="0.00" y="0" font-size="8.2">10</text></g>
<line x1="31.30" y1="465.90" x2="34.10" y2="465.90" stroke="#1e1e1e" stroke-width="1.1"/>
<g transform="translate(28.50,468.80) translate(-9.12,0)" fill="#1e1e1e" stroke="#1e1e1e" stroke-width="0.15"><text x="0.00" y="0" font-size="8.2">20</text></g>
<line x1="31.30" y1="455.25" x2="34.10" y2="455.25" stroke="#1e1e1e" stroke-width="1.1"/>
<g transform="translate(28.50,458.15) translate(-9.12,0)" fill="#1e1e1e" stroke="#1e1e1e" stroke-width="0.15"><text x="0.00" y="0" font-size="8.2">30</text></g>
<line x1="31.30" y1="444.60" x2="34.10" y2="444.60" stroke="#1e1e1e" stroke-width="1.1"/>
<g transform="translate(28.50,447.50) translate(-9.12,0)" fill="#1e1e1e" stroke="#1e1e1e" stroke-width="0.15"><text x="0.00" y="0" font-size="8.2">40</text></g>
<line x1="31.30" y1="433.95" x2="34.10" y2="433.95" stroke="#1e1e1e" stroke-width="1.1"/>
<g transform="translate(28.50,436.85) translate(-9.12,0)" fill="#1e1e1e" stroke="#1e1e1e" stroke-width="0.15"><text x="0.00" y="0" font-size="8.2">50</text></g>
<line x1="31.30" y1="423.30" x2="34.10" y2="423.30" stroke="#1e1e1e" stroke-width="1.1"/>
<g transform="translate(28.50,426.20) translate(-9.12,0)" fill="#1e1e1e" stroke="#1e1e1e" stroke-width="0.15"><text x="0.00" y="0" font-size="8.2">60</text></g>
<line x1="31.30" y1="412.65" x2="34.10" y2="412.65" stroke="#1e1e1e" stroke-width="1.1"/>
<g transform="translate(28.50,415.55) translate(-9.12,0)" fill="#1e1e1e" stroke="#1e1e1e" stroke-width="0.15"><text x="0.00" y="0" font-size="8.2">70</text></g>
<line x1="31.30" y1="402.00" x2="34.10" y2="402.00" stroke="#1e1e1e" stroke-width="1.1"/>
<g transform="translate(28.50,404.90) translate(-9.12,0)" fill="#1e1e1e" stroke="#1e1e1e" stroke-width="0.15"><text x="0.00" y="0" font-size="8.2">80</text></g>
<line x1="31.30" y1="391.35" x2="34.10" y2="391.35" stroke="#1e1e1e" stroke-width="1.1"/>
<g transform="translate(28.50,394.25) translate(-9.12,0)" fill="#1e1e1e" stroke="#1e1e1e" stroke-width="0.15"><text x="0.00" y="0" font-size="8.2">90</text></g>
<g transform="translate(14.20,440.60) rotate(-90) scale(0.7472962725473709,1) translate(-47.50,0)" fill="#1e1e1e"><text x="0.00" y="0" font-size="8.2" font-weight="bold">Bone marrow hCD45+ %</text></g>
<line x1="50.30" y1="492.80" x2="50.30" y2="495.80" stroke="#1e1e1e" stroke-width="1.1"/>
<line x1="73.50" y1="492.80" x2="73.50" y2="495.80" stroke="#1e1e1e" stroke-width="1.1"/>
<line x1="96.70" y1="492.80" x2="96.70" y2="495.80" stroke="#1e1e1e" stroke-width="1.1"/>
<line x1="120.20" y1="492.80" x2="120.20" y2="495.80" stroke="#1e1e1e" stroke-width="1.1"/>
<circle cx="50.50" cy="393.27" r="2.0" fill="#b4b4b4"/>
<circle cx="50.50" cy="419.04" r="2.0" fill="#b4b4b4"/>
<circle cx="50.50" cy="424.37" r="2.0" fill="#b4b4b4"/>
<circle cx="50.50" cy="468.56" r="2.0" fill="#b4b4b4"/>
<circle cx="44.70" cy="482.19" r="2.0" fill="#b4b4b4"/>
<circle cx="56.50" cy="482.19" r="2.0" fill="#b4b4b4"/>
<line x1="50.50" y1="412.65" x2="50.50" y2="482.19" stroke="#2b2b2b" stroke-width="1.1"/>
<line x1="47.00" y1="412.65" x2="54.00" y2="412.65" stroke="#2b2b2b" stroke-width="1.1"/>
<line x1="47.00" y1="482.19" x2="54.00" y2="482.19" stroke="#2b2b2b" stroke-width="1.1"/>
<line x1="42.80" y1="446.20" x2="58.20" y2="446.20" stroke="#2b2b2b" stroke-width="1.1"/>
<circle cx="73.50" cy="476.76" r="2.0" fill="#36a34e"/>
<circle cx="67.50" cy="485.60" r="2.0" fill="#36a34e"/>
<circle cx="70.50" cy="485.60" r="2.0" fill="#36a34e"/>
<circle cx="73.50" cy="485.50" r="2.0" fill="#36a34e"/>
<circle cx="76.50" cy="485.60" r="2.0" fill="#36a34e"/>
<circle cx="79.50" cy="485.60" r="2.0" fill="#36a34e"/>
<circle cx="72.00" cy="482.73" r="2.0" fill="#36a34e"/>
<circle cx="75.00" cy="482.73" r="2.0" fill="#36a34e"/>
<line x1="73.50" y1="481.13" x2="73.50" y2="485.60" stroke="#2b2b2b" stroke-width="1.1"/>
<line x1="70.20" y1="481.13" x2="76.80" y2="481.13" stroke="#2b2b2b" stroke-width="1.1"/>
<line x1="70.20" y1="485.60" x2="76.80" y2="485.60" stroke="#2b2b2b" stroke-width="1.1"/>
<line x1="66.00" y1="484.11" x2="81.00" y2="484.11" stroke="#2b2b2b" stroke-width="1.1"/>
<circle cx="93.50" cy="462.92" r="2.0" fill="#331a48"/>
<circle cx="99.90" cy="462.92" r="2.0" fill="#331a48"/>
<circle cx="96.50" cy="476.98" r="2.0" fill="#331a48"/>
<circle cx="90.80" cy="486.20" r="2.0" fill="#331a48"/>
<circle cx="96.50" cy="486.20" r="2.0" fill="#331a48"/>
<circle cx="102.20" cy="486.20" r="2.0" fill="#331a48"/>
<line x1="96.50" y1="463.98" x2="96.50" y2="486.20" stroke="#2b2b2b" stroke-width="1.1"/>
<line x1="93.20" y1="463.98" x2="99.80" y2="463.98" stroke="#2b2b2b" stroke-width="1.1"/>
<line x1="93.20" y1="486.20" x2="99.80" y2="486.20" stroke="#2b2b2b" stroke-width="1.1"/>
<line x1="88.70" y1="481.60" x2="104.30" y2="481.60" stroke="#2b2b2b" stroke-width="1.1"/>
<circle cx="115.30" cy="486.29" r="2.0" fill="#1f5689"/>
<circle cx="118.10" cy="486.29" r="2.0" fill="#1f5689"/>
<circle cx="120.80" cy="486.29" r="2.0" fill="#1f5689"/>
<circle cx="123.50" cy="486.29" r="2.0" fill="#1f5689"/>
<circle cx="126.30" cy="486.29" r="2.0" fill="#1f5689"/>
<g transform="translate(54.30,502.40) rotate(-45) translate(-12.59,0)" fill="#1e1e1e" stroke="#1e1e1e" stroke-width="0.22"><text x="0.00" y="0" font-size="7.3">Veh</text></g>
<g transform="translate(77.50,502.40) rotate(-45) translate(-17.40,0)" fill="#1e1e1e" stroke="#1e1e1e" stroke-width="0.22"><text x="0.00" y="0" font-size="7.3">T</text><path d="M4.61,-2.48 H9.50" stroke="#1e1e1e" stroke-width="0.62"/><path d="M9.40,-3.87 L11.91,-2.48 L9.40,-1.10 Z" fill="#1e1e1e"/><text x="12.12" y="0" font-size="7.3">D</text></g>
<g transform="translate(100.70,502.40) rotate(-45) translate(-17.81,0)" fill="#1e1e1e" stroke="#1e1e1e" stroke-width="0.22"><text x="0.00" y="0" font-size="7.3">D</text><path d="M5.42,-2.48 H10.31" stroke="#1e1e1e" stroke-width="0.62"/><path d="M10.21,-3.87 L12.72,-2.48 L10.21,-1.10 Z" fill="#1e1e1e"/><text x="12.94" y="0" font-size="7.3">V</text></g>
<g transform="translate(124.20,502.40) rotate(-45) translate(-31.96,0)" fill="#1e1e1e" stroke="#1e1e1e" stroke-width="0.22"><text x="0.00" y="0" font-size="7.3">T</text><path d="M4.61,-2.48 H9.50" stroke="#1e1e1e" stroke-width="0.62"/><path d="M9.40,-3.87 L11.91,-2.48 L9.40,-1.10 Z" fill="#1e1e1e"/><text x="12.12" y="0" font-size="7.3">D </text><path d="M19.57,-2.48 H24.46" stroke="#1e1e1e" stroke-width="0.62"/><path d="M24.36,-3.87 L26.87,-2.48 L24.36,-1.10 Z" fill="#1e1e1e"/><text x="27.09" y="0" font-size="7.3">V</text></g>
<g transform="translate(74.20,470.20) rotate(-45) translate(0.00,0)" fill="#1e1e1e" stroke="#1e1e1e" stroke-width="0.22"><text x="0.00" y="0" font-size="7.6" font-style="italic">P</text><text x="5.07" y="0" font-size="7.6"> = .009</text></g>
<g transform="translate(120.60,479.40) rotate(-45) translate(0.00,0)" fill="#1e1e1e" stroke="#1e1e1e" stroke-width="0.22"><text x="0.00" y="0" font-size="7.6" font-style="italic">P</text><text x="5.07" y="0" font-size="7.6"> = .002</text></g>
<text x="157.6" y="372.3" font-size="10.2" font-weight="bold" fill="#111" stroke="#111" stroke-width="0.45">F</text>
<g transform="translate(243.80,382.70) translate(-13.47,0)" fill="#1e1e1e" stroke="#1e1e1e" stroke-width="0.15"><text x="0.00" y="0" font-size="8.5">Day 81</text></g>
<line x1="191.50" y1="387.80" x2="191.50" y2="493.40" stroke="#1e1e1e" stroke-width="1.5"/>
<line x1="191.50" y1="492.80" x2="296.50" y2="492.80" stroke="#1e1e1e" stroke-width="1.5"/>
<line x1="188.70" y1="399.00" x2="191.50" y2="399.00" stroke="#1e1e1e" stroke-width="1.1"/>
<g transform="translate(186.70,401.80) translate(-15.96,0)" fill="#1e1e1e" stroke="#1e1e1e" stroke-width="0.15"><text x="0.00" y="0" font-size="8.2">0.09</text></g>
<line x1="188.70" y1="420.40" x2="191.50" y2="420.40" stroke="#1e1e1e" stroke-width="1.1"/>
<g transform="translate(186.70,423.20) translate(-15.96,0)" fill="#1e1e1e" stroke="#1e1e1e" stroke-width="0.15"><text x="0.00" y="0" font-size="8.2">0.08</text></g>
<line x1="188.70" y1="441.80" x2="191.50" y2="441.80" stroke="#1e1e1e" stroke-width="1.1"/>
<g transform="translate(186.70,444.60) translate(-15.96,0)" fill="#1e1e1e" stroke="#1e1e1e" stroke-width="0.15"><text x="0.00" y="0" font-size="8.2">0.07</text></g>
<line x1="188.70" y1="463.20" x2="191.50" y2="463.20" stroke="#1e1e1e" stroke-width="1.1"/>
<g transform="translate(186.70,466.00) translate(-15.96,0)" fill="#1e1e1e" stroke="#1e1e1e" stroke-width="0.15"><text x="0.00" y="0" font-size="8.2">0.06</text></g>
<line x1="188.70" y1="484.60" x2="191.50" y2="484.60" stroke="#1e1e1e" stroke-width="1.1"/>
<g transform="translate(186.70,487.40) translate(-15.96,0)" fill="#1e1e1e" stroke="#1e1e1e" stroke-width="0.15"><text x="0.00" y="0" font-size="8.2">0.05</text></g>
<g transform="translate(165.20,439.60) rotate(-90) scale(0.8042832853422452,1) translate(-31.46,0)" fill="#1e1e1e"><text x="0.00" y="0" font-size="7.6" font-weight="bold">Spleen weight (g)</text></g>
<line x1="207.80" y1="492.80" x2="207.80" y2="495.80" stroke="#1e1e1e" stroke-width="1.1"/>
<line x1="231.80" y1="492.80" x2="231.80" y2="495.80" stroke="#1e1e1e" stroke-width="1.1"/>
<line x1="255.80" y1="492.80" x2="255.80" y2="495.80" stroke="#1e1e1e" stroke-width="1.1"/>
<line x1="280.00" y1="492.80" x2="280.00" y2="495.80" stroke="#1e1e1e" stroke-width="1.1"/>
<circle cx="201.60" cy="398.36" r="1.95" fill="#b4b4b4"/>
<circle cx="213.80" cy="396.86" r="1.95" fill="#b4b4b4"/>
<circle cx="207.50" cy="405.63" r="1.95" fill="#b4b4b4"/>
<circle cx="207.50" cy="455.50" r="1.95" fill="#b4b4b4"/>
<circle cx="207.50" cy="461.70" r="1.95" fill="#b4b4b4"/>
<circle cx="207.50" cy="476.47" r="1.95" fill="#b4b4b4"/>
<line x1="207.50" y1="398.36" x2="207.50" y2="465.34" stroke="#2b2b2b" stroke-width="1.1"/>
<line x1="204.20" y1="398.36" x2="210.80" y2="398.36" stroke="#2b2b2b" stroke-width="1.1"/>
<line x1="204.20" y1="465.34" x2="210.80" y2="465.34" stroke="#2b2b2b" stroke-width="1.1"/>
<line x1="199.80" y1="431.31" x2="215.20" y2="431.31" stroke="#2b2b2b" stroke-width="1.1"/>
<circle cx="231.50" cy="432.81" r="1.95" fill="#36a34e"/>
<circle cx="231.50" cy="443.73" r="1.95" fill="#36a34e"/>
<circle cx="231.50" cy="448.43" r="1.95" fill="#36a34e"/>
<circle cx="231.50" cy="463.20" r="1.95" fill="#36a34e"/>
<circle cx="231.50" cy="471.12" r="1.95" fill="#36a34e"/>
<circle cx="231.50" cy="481.18" r="1.95" fill="#36a34e"/>
<line x1="231.50" y1="440.73" x2="231.50" y2="473.69" stroke="#2b2b2b" stroke-width="1.1"/>
<line x1="228.20" y1="440.73" x2="234.80" y2="440.73" stroke="#2b2b2b" stroke-width="1.1"/>
<line x1="228.20" y1="473.69" x2="234.80" y2="473.69" stroke="#2b2b2b" stroke-width="1.1"/>
<line x1="224.00" y1="455.28" x2="239.00" y2="455.28" stroke="#2b2b2b" stroke-width="1.1"/>
<circle cx="249.80" cy="436.30" r="1.95" fill="#331a48"/>
<circle cx="261.60" cy="436.30" r="1.95" fill="#331a48"/>
<circle cx="255.50" cy="441.20" r="1.95" fill="#331a48"/>
<circle cx="255.50" cy="455.00" r="1.95" fill="#331a48"/>
<circle cx="249.70" cy="463.99" r="1.95" fill="#331a48"/>
<circle cx="261.70" cy="463.99" r="1.95" fill="#331a48"/>
<line x1="255.50" y1="436.88" x2="255.50" y2="463.63" stroke="#2b2b2b" stroke-width="1.1"/>
<line x1="252.50" y1="436.88" x2="258.50" y2="436.88" stroke="#2b2b2b" stroke-width="1.1"/>
<line x1="252.50" y1="463.63" x2="258.50" y2="463.63" stroke="#2b2b2b" stroke-width="1.1"/>
<line x1="247.90" y1="448.09" x2="263.10" y2="448.09" stroke="#2b2b2b" stroke-width="1.1"/>
<circle cx="280.50" cy="409.49" r="1.95" fill="#1f5689"/>
<circle cx="280.50" cy="422.80" r="1.95" fill="#1f5689"/>
<circle cx="286.50" cy="430.31" r="1.95" fill="#1f5689"/>
<circle cx="274.50" cy="435.10" r="1.95" fill="#1f5689"/>
<circle cx="280.50" cy="435.10" r="1.95" fill="#1f5689"/>
<circle cx="286.50" cy="435.10" r="1.95" fill="#1f5689"/>
<line x1="280.50" y1="419.91" x2="280.50" y2="433.67" stroke="#2b2b2b" stroke-width="1.1"/>
<line x1="277.00" y1="419.91" x2="284.00" y2="419.91" stroke="#2b2b2b" stroke-width="1.1"/>
<line x1="277.00" y1="433.67" x2="284.00" y2="433.67" stroke="#2b2b2b" stroke-width="1.1"/>
<line x1="273.20" y1="431.70" x2="287.80" y2="431.70" stroke="#2b2b2b" stroke-width="1.1"/>
<g transform="translate(211.20,502.00) rotate(-45) translate(-12.07,0)" fill="#1e1e1e" stroke="#1e1e1e" stroke-width="0.22"><text x="0.00" y="0" font-size="7.0">Veh</text></g>
<g transform="translate(235.20,502.00) rotate(-45) translate(-16.68,0)" fill="#1e1e1e" stroke="#1e1e1e" stroke-width="0.22"><text x="0.00" y="0" font-size="7.0">T</text><path d="M4.42,-2.38 H9.11" stroke="#1e1e1e" stroke-width="0.60"/><path d="M9.01,-3.71 L11.42,-2.38 L9.01,-1.05 Z" fill="#1e1e1e"/><text x="11.63" y="0" font-size="7.0">D</text></g>
<g transform="translate(259.20,502.00) rotate(-45) translate(-17.07,0)" fill="#1e1e1e" stroke="#1e1e1e" stroke-width="0.22"><text x="0.00" y="0" font-size="7.0">D</text><path d="M5.20,-2.38 H9.89" stroke="#1e1e1e" stroke-width="0.60"/><path d="M9.79,-3.71 L12.20,-2.38 L9.79,-1.05 Z" fill="#1e1e1e"/><text x="12.41" y="0" font-size="7.0">V</text></g>
<g transform="translate(283.40,502.00) rotate(-45) translate(-30.65,0)" fill="#1e1e1e" stroke="#1e1e1e" stroke-width="0.22"><text x="0.00" y="0" font-size="7.0">T</text><path d="M4.42,-2.38 H9.11" stroke="#1e1e1e" stroke-width="0.60"/><path d="M9.01,-3.71 L11.42,-2.38 L9.01,-1.05 Z" fill="#1e1e1e"/><text x="11.63" y="0" font-size="7.0">D </text><path d="M18.77,-2.38 H23.46" stroke="#1e1e1e" stroke-width="0.60"/><path d="M23.36,-3.71 L25.77,-2.38 L23.36,-1.05 Z" fill="#1e1e1e"/><text x="25.98" y="0" font-size="7.0">V</text></g>
<path d="M0.45,0.0 C0.8,0.0 1.0,0.3 1.0,0.55 C1.0,0.85 0.8,1.0 0.5,1.0 C0.2,1.0 0.0,0.88 0.02,0.7 C0.05,0.55 0.12,0.45 0.08,0.3 C0.05,0.1 0.2,0.0 0.45,0.0 Z" fill="#2c0811" transform="translate(312.60,390.20) scale(7.40,21.90)"/>
<ellipse cx="316.30" cy="400.06" rx="1.04" ry="4.82" fill="#6e2c3c" opacity="0.4"/>
<path d="M0.45,0.0 C0.8,0.0 1.0,0.3 1.0,0.55 C1.0,0.85 0.8,1.0 0.5,1.0 C0.2,1.0 0.0,0.88 0.02,0.7 C0.05,0.55 0.12,0.45 0.08,0.3 C0.05,0.1 0.2,0.0 0.45,0.0 Z" fill="#2c0811" transform="translate(321.20,390.20) scale(7.70,21.60)"/>
<ellipse cx="325.05" cy="399.92" rx="1.08" ry="4.75" fill="#6e2c3c" opacity="0.4"/>
<path d="M0.45,0.0 C0.8,0.0 1.0,0.3 1.0,0.55 C1.0,0.85 0.8,1.0 0.5,1.0 C0.2,1.0 0.0,0.88 0.02,0.7 C0.05,0.55 0.12,0.45 0.08,0.3 C0.05,0.1 0.2,0.0 0.45,0.0 Z" fill="#2c0811" transform="translate(332.00,393.30) scale(7.10,17.50)"/>
<ellipse cx="335.55" cy="401.18" rx="0.99" ry="3.85" fill="#6e2c3c" opacity="0.4"/>
<path d="M0.45,0.0 C0.8,0.0 1.0,0.3 1.0,0.55 C1.0,0.85 0.8,1.0 0.5,1.0 C0.2,1.0 0.0,0.88 0.02,0.7 C0.05,0.55 0.12,0.45 0.08,0.3 C0.05,0.1 0.2,0.0 0.45,0.0 Z" fill="#2c0811" transform="translate(341.20,392.20) scale(6.90,18.90)"/>
<ellipse cx="344.65" cy="400.70" rx="0.97" ry="4.16" fill="#6e2c3c" opacity="0.4"/>
<path d="M0.45,0.0 C0.8,0.0 1.0,0.3 1.0,0.55 C1.0,0.85 0.8,1.0 0.5,1.0 C0.2,1.0 0.0,0.88 0.02,0.7 C0.05,0.55 0.12,0.45 0.08,0.3 C0.05,0.1 0.2,0.0 0.45,0.0 Z" fill="#2c0811" transform="translate(350.00,391.90) scale(6.90,19.90)"/>
<ellipse cx="353.45" cy="400.86" rx="0.97" ry="4.38" fill="#6e2c3c" opacity="0.4"/>
<path d="M0.45,0.0 C0.8,0.0 1.0,0.3 1.0,0.55 C1.0,0.85 0.8,1.0 0.5,1.0 C0.2,1.0 0.0,0.88 0.02,0.7 C0.05,0.55 0.12,0.45 0.08,0.3 C0.05,0.1 0.2,0.0 0.45,0.0 Z" fill="#2c0811" transform="translate(358.50,395.50) scale(5.00,13.40)"/>
<ellipse cx="361.00" cy="401.53" rx="0.70" ry="2.95" fill="#6e2c3c" opacity="0.4"/>
<path d="M0.45,0.0 C0.8,0.0 1.0,0.3 1.0,0.55 C1.0,0.85 0.8,1.0 0.5,1.0 C0.2,1.0 0.0,0.88 0.02,0.7 C0.05,0.55 0.12,0.45 0.08,0.3 C0.05,0.1 0.2,0.0 0.45,0.0 Z" fill="#2c0811" transform="translate(314.40,417.00) scale(5.40,19.50)"/>
<ellipse cx="317.10" cy="425.77" rx="0.76" ry="4.29" fill="#6e2c3c" opacity="0.4"/>
<path d="M0.45,0.0 C0.8,0.0 1.0,0.3 1.0,0.55 C1.0,0.85 0.8,1.0 0.5,1.0 C0.2,1.0 0.0,0.88 0.02,0.7 C0.05,0.55 0.12,0.45 0.08,0.3 C0.05,0.1 0.2,0.0 0.45,0.0 Z" fill="#2c0811" transform="translate(323.80,417.50) scale(6.80,19.00)"/>
<ellipse cx="327.20" cy="426.05" rx="0.95" ry="4.18" fill="#6e2c3c" opacity="0.4"/>
<path d="M0.45,0.0 C0.8,0.0 1.0,0.3 1.0,0.55 C1.0,0.85 0.8,1.0 0.5,1.0 C0.2,1.0 0.0,0.88 0.02,0.7 C0.05,0.55 0.12,0.45 0.08,0.3 C0.05,0.1 0.2,0.0 0.45,0.0 Z" fill="#2c0811" transform="translate(332.60,417.50) scale(6.00,19.00)"/>
<ellipse cx="335.60" cy="426.05" rx="0.84" ry="4.18" fill="#6e2c3c" opacity="0.4"/>
<path d="M0.45,0.0 C0.8,0.0 1.0,0.3 1.0,0.55 C1.0,0.85 0.8,1.0 0.5,1.0 C0.2,1.0 0.0,0.88 0.02,0.7 C0.05,0.55 0.12,0.45 0.08,0.3 C0.05,0.1 0.2,0.0 0.45,0.0 Z" fill="#2c0811" transform="translate(341.30,416.80) scale(6.70,19.20)"/>
<ellipse cx="344.65" cy="425.44" rx="0.94" ry="4.22" fill="#6e2c3c" opacity="0.4"/>
<path d="M0.45,0.0 C0.8,0.0 1.0,0.3 1.0,0.55 C1.0,0.85 0.8,1.0 0.5,1.0 C0.2,1.0 0.0,0.88 0.02,0.7 C0.05,0.55 0.12,0.45 0.08,0.3 C0.05,0.1 0.2,0.0 0.45,0.0 Z" fill="#2c0811" transform="translate(351.40,418.50) scale(5.40,17.50)"/>
<ellipse cx="354.10" cy="426.38" rx="0.76" ry="3.85" fill="#6e2c3c" opacity="0.4"/>
<path d="M0.45,0.0 C0.8,0.0 1.0,0.3 1.0,0.55 C1.0,0.85 0.8,1.0 0.5,1.0 C0.2,1.0 0.0,0.88 0.02,0.7 C0.05,0.55 0.12,0.45 0.08,0.3 C0.05,0.1 0.2,0.0 0.45,0.0 Z" fill="#2c0811" transform="translate(359.50,418.50) scale(5.40,18.00)"/>
<ellipse cx="362.20" cy="426.60" rx="0.76" ry="3.96" fill="#6e2c3c" opacity="0.4"/>
<path d="M0.45,0.0 C0.8,0.0 1.0,0.3 1.0,0.55 C1.0,0.85 0.8,1.0 0.5,1.0 C0.2,1.0 0.0,0.88 0.02,0.7 C0.05,0.55 0.12,0.45 0.08,0.3 C0.05,0.1 0.2,0.0 0.45,0.0 Z" fill="#2c0811" transform="translate(315.00,442.00) scale(6.20,19.30)"/>
<ellipse cx="318.10" cy="450.69" rx="0.87" ry="4.25" fill="#6e2c3c" opacity="0.4"/>
<path d="M0.45,0.0 C0.8,0.0 1.0,0.3 1.0,0.55 C1.0,0.85 0.8,1.0 0.5,1.0 C0.2,1.0 0.0,0.88 0.02,0.7 C0.05,0.55 0.12,0.45 0.08,0.3 C0.05,0.1 0.2,0.0 0.45,0.0 Z" fill="#2c0811" transform="translate(323.80,442.50) scale(6.80,18.50)"/>
<ellipse cx="327.20" cy="450.82" rx="0.95" ry="4.07" fill="#6e2c3c" opacity="0.4"/>
<path d="M0.45,0.0 C0.8,0.0 1.0,0.3 1.0,0.55 C1.0,0.85 0.8,1.0 0.5,1.0 C0.2,1.0 0.0,0.88 0.02,0.7 C0.05,0.55 0.12,0.45 0.08,0.3 C0.05,0.1 0.2,0.0 0.45,0.0 Z" fill="#2c0811" transform="translate(334.00,442.00) scale(6.70,19.30)"/>
<ellipse cx="337.35" cy="450.69" rx="0.94" ry="4.25" fill="#6e2c3c" opacity="0.4"/>
<path d="M0.45,0.0 C0.8,0.0 1.0,0.3 1.0,0.55 C1.0,0.85 0.8,1.0 0.5,1.0 C0.2,1.0 0.0,0.88 0.02,0.7 C0.05,0.55 0.12,0.45 0.08,0.3 C0.05,0.1 0.2,0.0 0.45,0.0 Z" fill="#2c0811" transform="translate(343.40,443.00) scale(6.00,17.00)"/>
<ellipse cx="346.40" cy="450.65" rx="0.84" ry="3.74" fill="#6e2c3c" opacity="0.4"/>
<path d="M0.45,0.0 C0.8,0.0 1.0,0.3 1.0,0.55 C1.0,0.85 0.8,1.0 0.5,1.0 C0.2,1.0 0.0,0.88 0.02,0.7 C0.05,0.55 0.12,0.45 0.08,0.3 C0.05,0.1 0.2,0.0 0.45,0.0 Z" fill="#2c0811" transform="translate(352.80,443.50) scale(6.00,17.00)"/>
<ellipse cx="355.80" cy="451.15" rx="0.84" ry="3.74" fill="#6e2c3c" opacity="0.4"/>
<path d="M0.45,0.0 C0.8,0.0 1.0,0.3 1.0,0.55 C1.0,0.85 0.8,1.0 0.5,1.0 C0.2,1.0 0.0,0.88 0.02,0.7 C0.05,0.55 0.12,0.45 0.08,0.3 C0.05,0.1 0.2,0.0 0.45,0.0 Z" fill="#2c0811" transform="translate(361.50,442.50) scale(6.10,18.80)"/>
<ellipse cx="364.55" cy="450.96" rx="0.85" ry="4.14" fill="#6e2c3c" opacity="0.4"/>
<path d="M0.45,0.0 C0.8,0.0 1.0,0.3 1.0,0.55 C1.0,0.85 0.8,1.0 0.5,1.0 C0.2,1.0 0.0,0.88 0.02,0.7 C0.05,0.55 0.12,0.45 0.08,0.3 C0.05,0.1 0.2,0.0 0.45,0.0 Z" fill="#2c0811" transform="translate(316.00,465.60) scale(6.50,19.90)"/>
<ellipse cx="319.25" cy="474.56" rx="0.91" ry="4.38" fill="#6e2c3c" opacity="0.4"/>
<path d="M0.45,0.0 C0.8,0.0 1.0,0.3 1.0,0.55 C1.0,0.85 0.8,1.0 0.5,1.0 C0.2,1.0 0.0,0.88 0.02,0.7 C0.05,0.55 0.12,0.45 0.08,0.3 C0.05,0.1 0.2,0.0 0.45,0.0 Z" fill="#2c0811" transform="translate(324.50,466.00) scale(8.10,19.50)"/>
<ellipse cx="328.55" cy="474.77" rx="1.13" ry="4.29" fill="#6e2c3c" opacity="0.4"/>
<path d="M0.45,0.0 C0.8,0.0 1.0,0.3 1.0,0.55 C1.0,0.85 0.8,1.0 0.5,1.0 C0.2,1.0 0.0,0.88 0.02,0.7 C0.05,0.55 0.12,0.45 0.08,0.3 C0.05,0.1 0.2,0.0 0.45,0.0 Z" fill="#2c0811" transform="translate(333.30,465.60) scale(7.70,19.40)"/>
<ellipse cx="337.15" cy="474.33" rx="1.08" ry="4.27" fill="#6e2c3c" opacity="0.4"/>
<path d="M0.45,0.0 C0.8,0.0 1.0,0.3 1.0,0.55 C1.0,0.85 0.8,1.0 0.5,1.0 C0.2,1.0 0.0,0.88 0.02,0.7 C0.05,0.55 0.12,0.45 0.08,0.3 C0.05,0.1 0.2,0.0 0.45,0.0 Z" fill="#2c0811" transform="translate(343.40,466.50) scale(6.00,17.50)"/>
<ellipse cx="346.40" cy="474.38" rx="0.84" ry="3.85" fill="#6e2c3c" opacity="0.4"/>
<path d="M0.45,0.0 C0.8,0.0 1.0,0.3 1.0,0.55 C1.0,0.85 0.8,1.0 0.5,1.0 C0.2,1.0 0.0,0.88 0.02,0.7 C0.05,0.55 0.12,0.45 0.08,0.3 C0.05,0.1 0.2,0.0 0.45,0.0 Z" fill="#2c0811" transform="translate(351.80,465.80) scale(7.00,19.20)"/>
<ellipse cx="355.30" cy="474.44" rx="0.98" ry="4.22" fill="#6e2c3c" opacity="0.4"/>
<path d="M0.45,0.0 C0.8,0.0 1.0,0.3 1.0,0.55 C1.0,0.85 0.8,1.0 0.5,1.0 C0.2,1.0 0.0,0.88 0.02,0.7 C0.05,0.55 0.12,0.45 0.08,0.3 C0.05,0.1 0.2,0.0 0.45,0.0 Z" fill="#2c0811" transform="translate(361.80,465.60) scale(7.50,19.90)"/>
<ellipse cx="365.55" cy="474.56" rx="1.05" ry="4.38" fill="#6e2c3c" opacity="0.4"/>
<g transform="translate(373.40,406.90) translate(0.00,0)" fill="#1e1e1e" stroke="#1e1e1e" stroke-width="0.15"><text x="0.00" y="0" font-size="7.4">Vehicle</text></g>
<g transform="translate(373.40,428.80) translate(0.00,0)" fill="#1e1e1e" stroke="#1e1e1e" stroke-width="0.15"><text x="0.00" y="0" font-size="7.4">Teri</text><path d="M12.07,-2.52 H17.03" stroke="#1e1e1e" stroke-width="0.63"/><path d="M16.93,-3.92 L19.47,-2.52 L16.93,-1.11 Z" fill="#1e1e1e"/><text x="19.69" y="0" font-size="7.4">Dec</text></g>
<g transform="translate(373.40,453.10) translate(0.00,0)" fill="#1e1e1e" stroke="#1e1e1e" stroke-width="0.15"><text x="0.00" y="0" font-size="7.4">Dec</text><path d="M13.31,-2.52 H18.27" stroke="#1e1e1e" stroke-width="0.63"/><path d="M18.17,-3.92 L20.71,-2.52 L18.17,-1.11 Z" fill="#1e1e1e"/><text x="20.93" y="0" font-size="7.4">Ven</text></g>
<g transform="translate(373.40,477.50) translate(0.00,0)" fill="#1e1e1e" stroke="#1e1e1e" stroke-width="0.15"><text x="0.00" y="0" font-size="7.4">Teri</text><path d="M12.07,-2.52 H17.03" stroke="#1e1e1e" stroke-width="0.63"/><path d="M16.93,-3.92 L19.47,-2.52 L16.93,-1.11 Z" fill="#1e1e1e"/><text x="19.69" y="0" font-size="7.4">Dec </text><path d="M35.06,-2.52 H40.02" stroke="#1e1e1e" stroke-width="0.63"/><path d="M39.92,-3.92 L42.46,-2.52 L39.92,-1.11 Z" fill="#1e1e1e"/><text x="42.68" y="0" font-size="7.4">Ven</text></g>
<rect x="0.5" y="0.5" width="519" height="533" fill="none" stroke="#505050" stroke-width="1"/>
</svg>
</div></body></html>
